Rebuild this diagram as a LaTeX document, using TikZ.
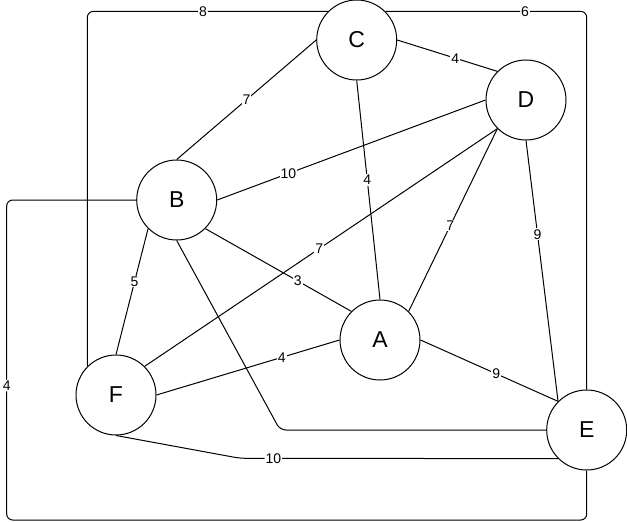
\documentclass[tikz,border=0pt]{standalone}
\usepackage{fontspec}
\setmainfont{Liberation Sans}
\begin{document}
\begin{tikzpicture}[x=1pt,y=-1pt,
  vertex/.style={circle,draw,line width=1pt,minimum size=80pt,inner sep=0pt,
    font=\fontsize{23}{26}\selectfont},
  edge/.style={draw,line width=1pt},
  bent/.style={edge,rounded corners=6pt},
  lbl/.style={fill=white,inner sep=1pt,font=\fontsize{14}{16}\selectfont}]
\useasboundingbox (0,0) rectangle (627,522);
\fill[white] (0,0) rectangle (627,522);

% vertices
\node[vertex] (C) at (356.7,40) {C};
\node[vertex] (D) at (526,100) {D};
\node[vertex] (B) at (176.7,200) {B};
\node[vertex] (A) at (380,340) {A};
\node[vertex] (F) at (116,395) {F};
\node[vertex] (E) at (586.7,430) {E};

% straight edges
\draw[edge] (C.east) -- node[lbl,pos=0.58] {4} (D.north west);
\draw[edge] (C.west) -- node[lbl,pos=0.5] {7} (B.north);
\draw[edge] (C.south) -- node[lbl,pos=0.455] {4} (A.north);
\draw[edge] (D.west) -- node[lbl,pos=0.735] {10} (B.east);
\draw[edge] (D.south west) -- node[lbl,pos=0.505] {7} (F.north east);
\draw[edge] (D.south west) -- node[lbl,pos=0.53] {7} (A.north east);
\draw[edge] (D.south) -- node[lbl,pos=0.36] {9} (E.north west);
\draw[edge] (B.south east) -- node[lbl,pos=0.633] {3} (A.north west);
\draw[edge] (B.south west) -- node[lbl,pos=0.42] {5} (F.north);
\draw[edge] (A.west) -- node[lbl,pos=0.315] {4} (F.east);
\draw[edge] (A.east) -- node[lbl,pos=0.55] {9} (E.north west);

% routed edges
\draw[bent] (C.north west) -| node[lbl,pos=0.26] {8} (F.north west);
\draw[bent] (C.north east) -| node[lbl,pos=0.347] {6} (E.north);
\draw[bent] (B.west) -- (6.7,200) -- node[lbl,pos=0.58] {4} (6.7,520) -| (E.south);
\draw[bent] (B.south) -- (280,430) -- (E.west);
\draw[bent] (F.south) -- (240,458.3) -- node[lbl,pos=0.105] {10} (E.south west);
\end{tikzpicture}
\end{document}
